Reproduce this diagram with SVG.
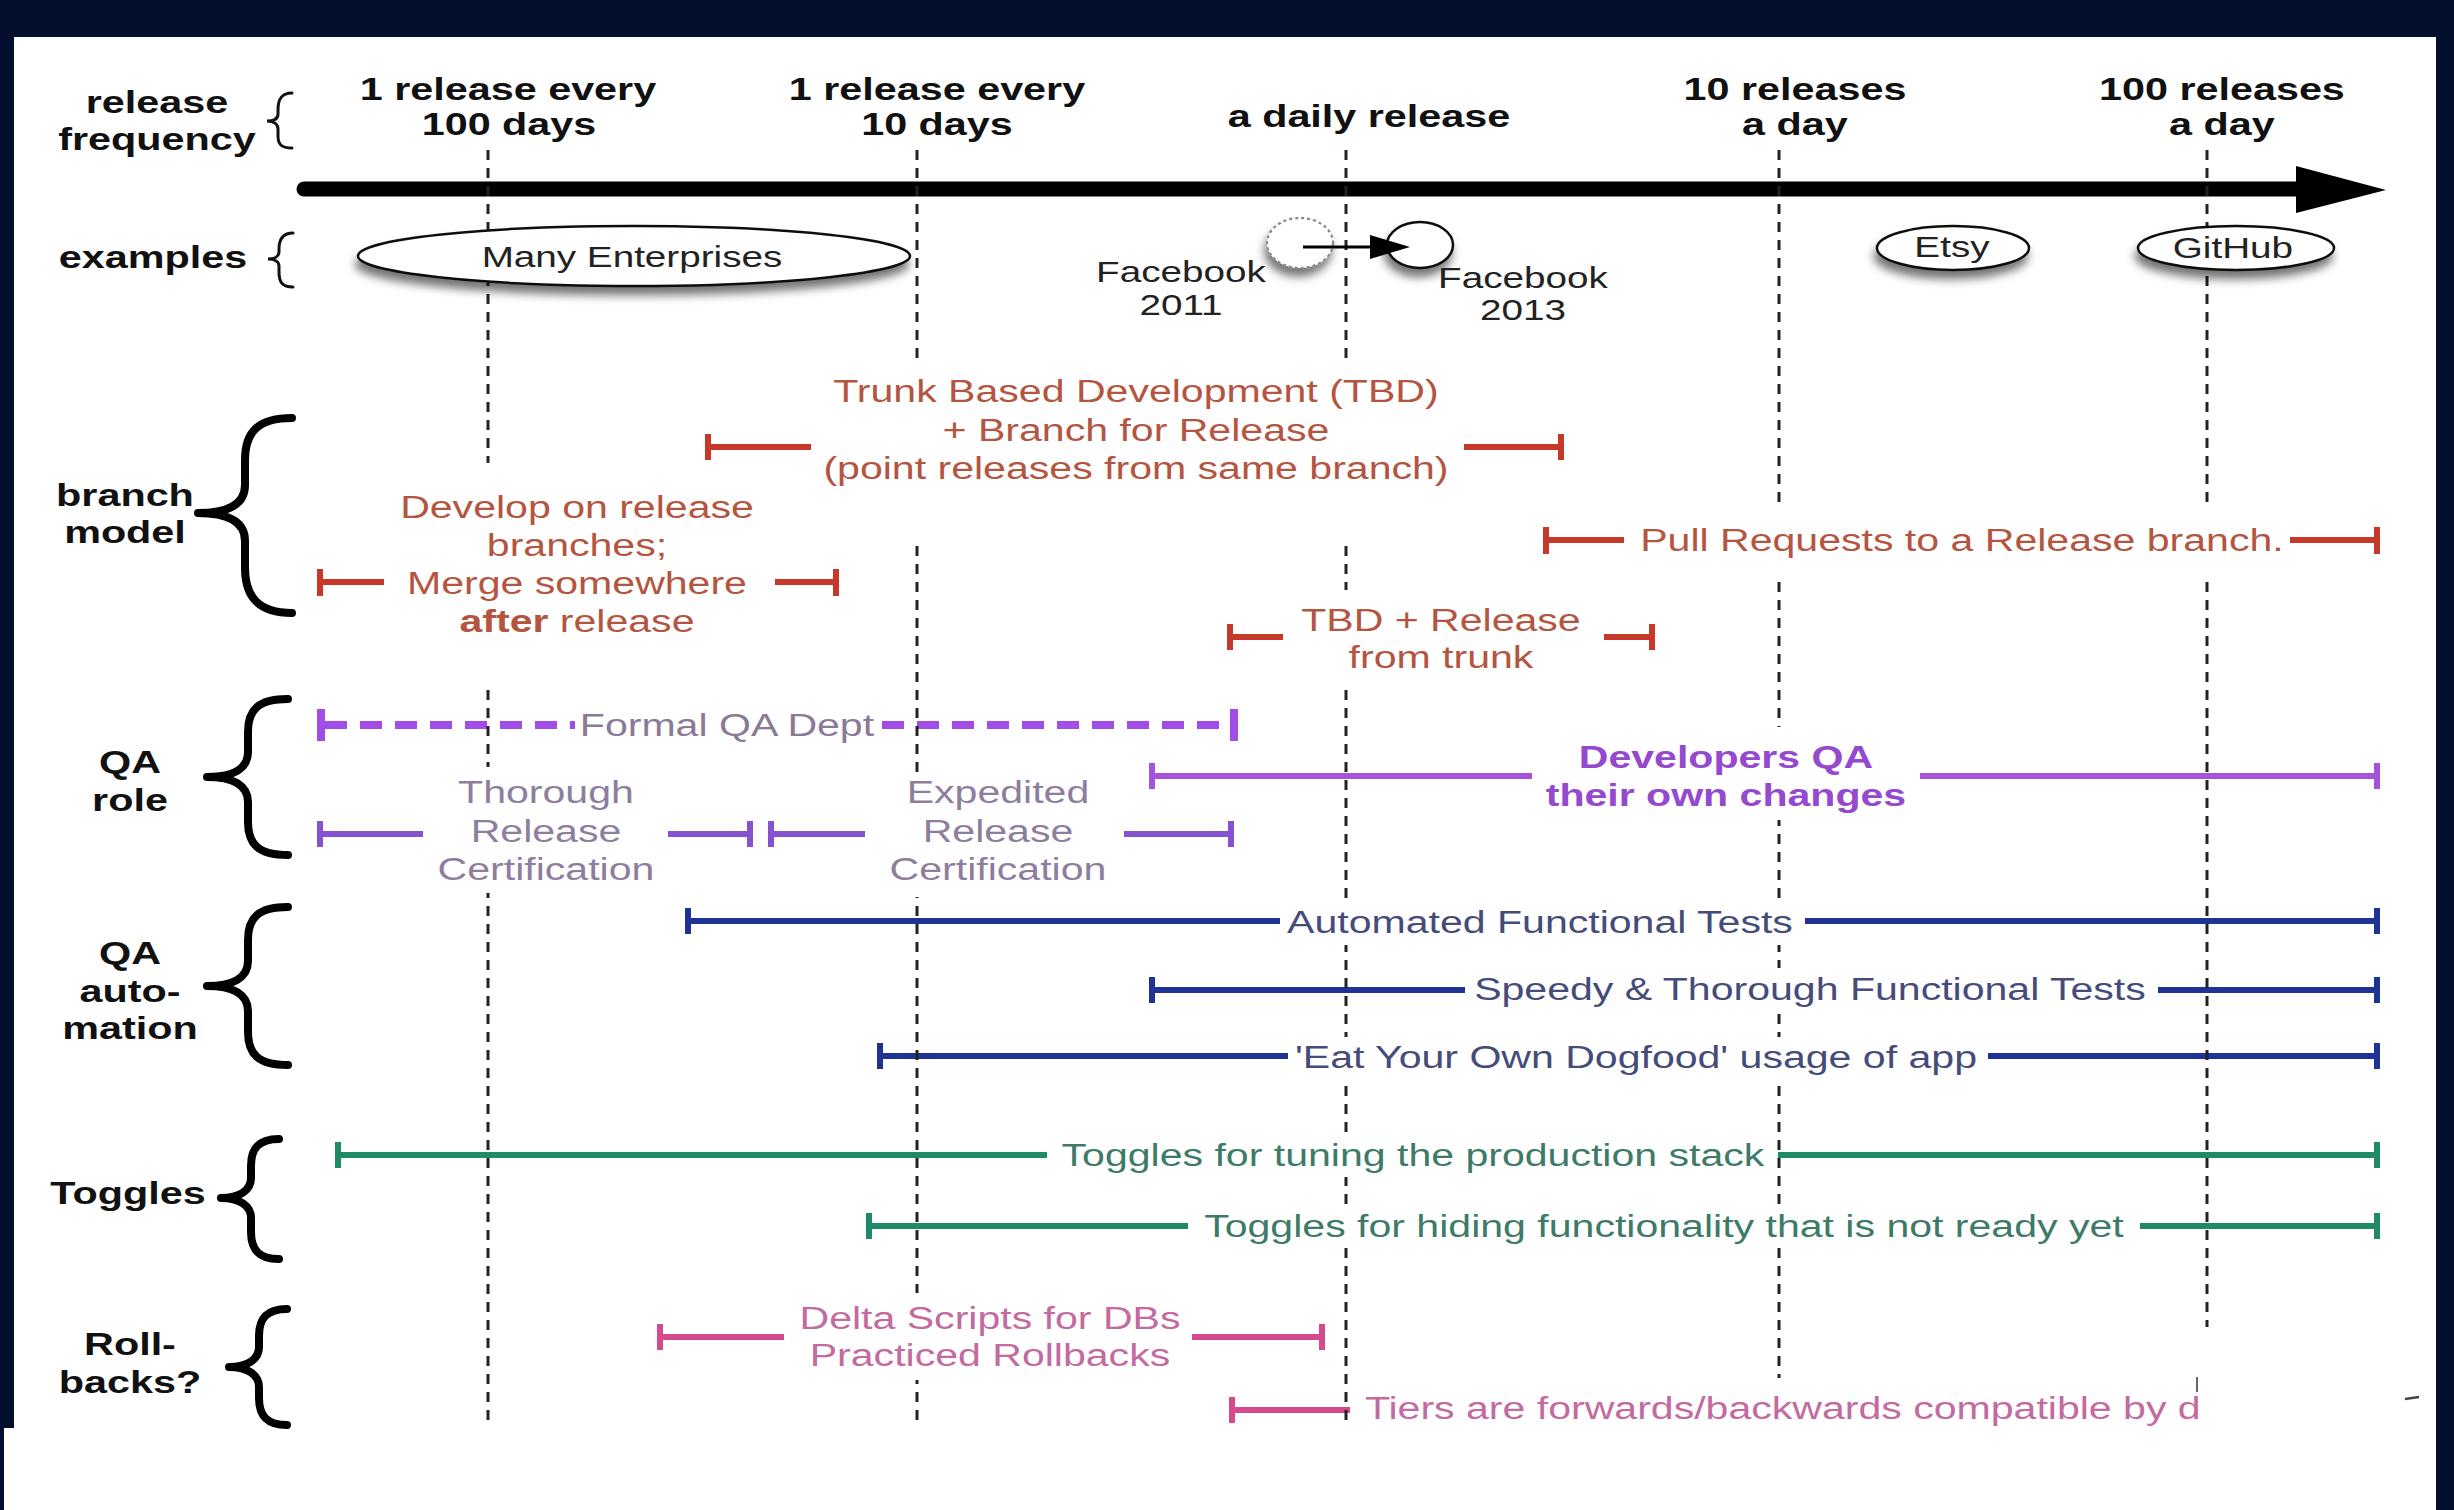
<svg xmlns="http://www.w3.org/2000/svg" width="2454" height="1510" viewBox="0 0 2454 1510">
<style>
.lbl{font-family:"Liberation Sans",Arial,Helvetica,sans-serif;font-weight:bold;font-size:31px;fill:#111;text-anchor:middle}
.t{font-family:"Liberation Sans",Arial,Helvetica,sans-serif;font-size:30.8px;text-anchor:middle}
.e{font-family:"Liberation Sans",Arial,Helvetica,sans-serif;font-size:29px;fill:#222;text-anchor:middle}
.b{font-weight:bold}
.vl{stroke:#222;stroke-width:3;stroke-dasharray:10 8;fill:none}
.br{stroke:#000;stroke-width:8;fill:none;stroke-linecap:round;stroke-linejoin:round}
.thin{stroke:#111;stroke-width:3;fill:none;stroke-linecap:round}
.bar{stroke-width:6;fill:none}
.cap{stroke-width:6}
.red{stroke:#c8382a}.redt{fill:#b4553f}
.pd{stroke:#a24ee6}.pdt{fill:#8a7a98}
.pv{stroke:#a552dc}.pvt{fill:#9449cf}
.pt{stroke:#8752d0}.ptt{fill:#8e7e9e}
.blu{stroke:#1f3394}.blut{fill:#464c7a}
.grn{stroke:#1e8a68}.grnt{fill:#3e7a68}
.pk{stroke:#d44a8c}.pkt{fill:#c36aa0}
.ko{fill:#fff}
.ell{fill:#fff;stroke:#111;stroke-width:2.5}
</style>
<defs>
<filter id="sh" x="-20%" y="-40%" width="140%" height="200%">
<feDropShadow dx="-2" dy="8" stdDeviation="5" flood-color="#000" flood-opacity="0.55"/>
</filter>
<clipPath id="tierclip"><rect x="1200" y="1380" width="1003" height="48"/></clipPath>
</defs>
<rect x="0" y="0" width="2454" height="1510" fill="#020f2e"/>
<rect x="14" y="37" width="2422" height="1391" fill="#fff"/>
<rect x="4" y="1428" width="2432" height="82" fill="#fff"/>

<!-- timeline axis -->
<g id="axis">
<line x1="304" y1="189" x2="2300" y2="189" stroke="#000" stroke-width="15" stroke-linecap="round"/>
<polygon points="2296,166 2386,190 2296,213" fill="#000"/>
</g>

<!-- connectors: bars -->
<g id="connectors">
<g id="bar-trunk" class="red"><line class="bar" x1="708" y1="447" x2="811" y2="447"/><line class="bar" x1="1464" y1="447" x2="1561" y2="447"/><line class="cap" x1="708" y1="434" x2="708" y2="460"/><line class="cap" x1="1561" y1="434" x2="1561" y2="460"/></g>
<g id="bar-develop" class="red"><line class="bar" x1="320" y1="582" x2="384" y2="582"/><line class="bar" x1="775" y1="582" x2="836" y2="582"/><line class="cap" x1="320" y1="569" x2="320" y2="596"/><line class="cap" x1="836" y1="569" x2="836" y2="596"/></g>
<g id="bar-pull" class="red"><line class="bar" x1="1546" y1="540" x2="1624" y2="540"/><line class="bar" x1="2290" y1="540" x2="2377" y2="540"/><line class="cap" x1="1546" y1="527" x2="1546" y2="554"/><line class="cap" x1="2377" y1="527" x2="2377" y2="554"/></g>
<g id="bar-tbd" class="red"><line class="bar" x1="1230" y1="637" x2="1283" y2="637"/><line class="bar" x1="1604" y1="637" x2="1652" y2="637"/><line class="cap" x1="1230" y1="624" x2="1230" y2="650"/><line class="cap" x1="1652" y1="624" x2="1652" y2="650"/></g>

<g id="bar-formal" class="pd"><line x1="325" y1="725" x2="575" y2="725" stroke-width="8" stroke-dasharray="22 13"/><line x1="882" y1="725" x2="1232" y2="725" stroke-width="8" stroke-dasharray="22 13"/><line x1="321" y1="709" x2="321" y2="741" stroke-width="8"/><line x1="1234" y1="709" x2="1234" y2="741" stroke-width="8"/></g>
<g id="bar-dev" class="pv"><line class="bar" x1="1152" y1="776" x2="1532" y2="776"/><line class="bar" x1="1920" y1="776" x2="2377" y2="776"/><line class="cap" x1="1152" y1="763" x2="1152" y2="789"/><line class="cap" x1="2377" y1="763" x2="2377" y2="789"/></g>
<g id="bar-thorough" class="pt"><line class="bar" x1="320" y1="834" x2="423" y2="834"/><line class="bar" x1="668" y1="834" x2="750" y2="834"/><line class="cap" x1="320" y1="821" x2="320" y2="847"/><line class="cap" x1="750" y1="821" x2="750" y2="847"/></g>
<g id="bar-expedited" class="pt"><line class="bar" x1="771" y1="834" x2="865" y2="834"/><line class="bar" x1="1124" y1="834" x2="1231" y2="834"/><line class="cap" x1="771" y1="821" x2="771" y2="847"/><line class="cap" x1="1231" y1="821" x2="1231" y2="847"/></g>

<g id="bar-auto" class="blu"><line class="bar" x1="688" y1="921" x2="1280" y2="921"/><line class="bar" x1="1805" y1="921" x2="2377" y2="921"/><line class="cap" x1="688" y1="908" x2="688" y2="934"/><line class="cap" x1="2377" y1="908" x2="2377" y2="934"/></g>
<g id="bar-speedy" class="blu"><line class="bar" x1="1152" y1="990" x2="1465" y2="990"/><line class="bar" x1="2158" y1="990" x2="2377" y2="990"/><line class="cap" x1="1152" y1="977" x2="1152" y2="1003"/><line class="cap" x1="2377" y1="977" x2="2377" y2="1003"/></g>
<g id="bar-eat" class="blu"><line class="bar" x1="880" y1="1056" x2="1288" y2="1056"/><line class="bar" x1="1988" y1="1056" x2="2377" y2="1056"/><line class="cap" x1="880" y1="1043" x2="880" y2="1069"/><line class="cap" x1="2377" y1="1043" x2="2377" y2="1069"/></g>

<g id="bar-tuning" class="grn"><line class="bar" x1="338" y1="1155" x2="1047" y2="1155"/><line class="bar" x1="1778" y1="1155" x2="2377" y2="1155"/><line class="cap" x1="338" y1="1142" x2="338" y2="1168"/><line class="cap" x1="2377" y1="1142" x2="2377" y2="1168"/></g>
<g id="bar-hiding" class="grn"><line class="bar" x1="869" y1="1226" x2="1188" y2="1226"/><line class="bar" x1="2140" y1="1226" x2="2377" y2="1226"/><line class="cap" x1="869" y1="1213" x2="869" y2="1239"/><line class="cap" x1="2377" y1="1213" x2="2377" y2="1239"/></g>

<g id="bar-delta" class="pk"><line class="bar" x1="660" y1="1337" x2="784" y2="1337"/><line class="bar" x1="1192" y1="1337" x2="1322" y2="1337"/><line class="cap" x1="660" y1="1324" x2="660" y2="1350"/><line class="cap" x1="1322" y1="1324" x2="1322" y2="1350"/></g>
<g id="bar-tiers" class="pk"><line class="bar" x1="1232" y1="1410" x2="1350" y2="1410"/><line class="cap" x1="1232" y1="1397" x2="1232" y2="1423"/></g>
</g>

<!-- vertical dashed frequency lines -->
<g id="gridlines">
<line class="vl" x1="488" y1="150" x2="488" y2="1428"/>
<line class="vl" x1="917" y1="150" x2="917" y2="1428"/>
<line class="vl" x1="1346" y1="150" x2="1346" y2="1428"/>
<line class="vl" x1="1779" y1="150" x2="1779" y2="1378"/>
<line class="vl" x1="2207" y1="150" x2="2207" y2="1327"/>
<line x1="2197" y1="1377" x2="2197" y2="1392" stroke="#666" stroke-width="2"/>
<line x1="2405" y1="1399" x2="2419" y2="1397" stroke="#444" stroke-width="2.5"/>
</g>

<!-- knockouts behind text -->
<g id="knockouts">
<rect class="ko" x="820" y="360" width="632" height="178"/>
<rect class="ko" x="395" y="463" width="365" height="220"/>
<rect class="ko" x="1635" y="510" width="650" height="67"/>
<rect class="ko" x="1296" y="590" width="294" height="95"/>
<rect class="ko" x="1540" y="727" width="372" height="93"/>
<rect class="ko" x="428" y="767" width="234" height="126"/>
<rect class="ko" x="888" y="775" width="228" height="122"/>
<rect class="ko" x="1283" y="900" width="514" height="45"/>
<rect class="ko" x="1468" y="968" width="685" height="42"/>
<rect class="ko" x="1292" y="1037" width="691" height="43"/>
<rect class="ko" x="1052" y="1135" width="720" height="42"/>
<rect class="ko" x="1190" y="1205" width="946" height="43"/>
<rect class="ko" x="788" y="1293" width="400" height="87"/>
</g>

<!-- braces -->
<g id="braces">
<path class="thin" d="M292,93 C281,93 278,100 278,110 L278,114 C278,119 274,121 267,121 C274,121 278,124 278,129 L278,136 C278,144 281,148 292,148"/>
<path class="thin" d="M293,233 C282,233 279,240 279,249 L279,252 C279,256 275,259 268,259 C275,259 279,262 279,266 L279,272 C279,282 282,287 293,287"/>
<path class="br" d="M292,418 C258,418 245,432 245,460 L245,485 C245,503 230,513 198,513 C230,513 245,523 245,541 L245,568 C245,596 258,613 292,613"/>
<path class="br" d="M288,699 C258,699 248,710 248,732 L248,752 C248,768 234,777 207,777 C234,777 248,786 248,802 L248,822 C248,844 258,855 288,855"/>
<path class="br" d="M288,907 C258,907 248,918 248,940 L248,961 C248,977 234,986 207,986 C234,986 248,995 248,1011 L248,1032 C248,1054 258,1065 288,1065"/>
<path class="br" d="M279,1139 C259,1139 251,1148 251,1166 L251,1178 C251,1190 240,1198 221,1198 C240,1198 251,1206 251,1218 L251,1232 C251,1250 259,1259 279,1259"/>
<path class="br" d="M287,1309 C267,1309 259,1318 259,1336 L259,1347 C259,1359 248,1367 229,1367 C248,1367 259,1375 259,1387 L259,1398 C259,1416 267,1425 287,1425"/>
</g>

<!-- example nodes -->
<g id="node-many-enterprises"><ellipse class="ell" cx="634" cy="256" rx="276" ry="30" filter="url(#sh)"/></g>
<g id="node-fb2011"><ellipse cx="1300" cy="243" rx="33" ry="25" fill="#fff" stroke="#888" stroke-width="2.2" stroke-dasharray="3 3" filter="url(#sh)"/></g>
<g id="node-fb2013"><ellipse class="ell" cx="1420" cy="245" rx="33" ry="23" filter="url(#sh)"/></g>
<g id="node-etsy"><ellipse class="ell" cx="1953" cy="248" rx="76" ry="22" filter="url(#sh)"/></g>
<g id="node-github"><ellipse class="ell" cx="2236" cy="248" rx="98" ry="22" filter="url(#sh)"/></g>
<g id="fb-arrow">
<line x1="1303" y1="247" x2="1378" y2="247" stroke="#000" stroke-width="3"/>
<polygon points="1370,235 1410,247 1370,259" fill="#000"/>
</g>

<!-- all text, stretched horizontally like the reference -->
<g transform="scale(1.3333,1)">
<g id="row-labels">
<text class="lbl" x="117.75" y="113">release</text>
<text class="lbl" x="117.75" y="150">frequency</text>
<text class="lbl" x="114.75" y="268">examples</text>
<text class="lbl" x="93.75" y="506">branch</text>
<text class="lbl" x="93.75" y="543">model</text>
<text class="lbl" x="97.5" y="773">QA</text>
<text class="lbl" x="97.5" y="811">role</text>
<text class="lbl" x="97.5" y="964">QA</text>
<text class="lbl" x="97.5" y="1002">auto-</text>
<text class="lbl" x="97.5" y="1039">mation</text>
<text class="lbl" x="96" y="1204">Toggles</text>
<text class="lbl" x="97.5" y="1355">Roll-</text>
<text class="lbl" x="97.5" y="1393">backs?</text>
</g>
<g id="freq-labels">
<text class="lbl" x="381" y="100">1 release every</text>
<text class="lbl" x="381.75" y="135">100 days</text>
<text class="lbl" x="702.75" y="100">1 release every</text>
<text class="lbl" x="702.75" y="135">10 days</text>
<text class="lbl" x="1026.75" y="127">a daily release</text>
<text class="lbl" x="1346.25" y="100">10 releases</text>
<text class="lbl" x="1346.25" y="135">a day</text>
<text class="lbl" x="1666.5" y="100">100 releases</text>
<text class="lbl" x="1666.5" y="135">a day</text>
</g>
<g id="example-labels">
<text class="e" x="474" y="267">Many Enterprises</text>
<text class="e" x="885.75" y="282">Facebook</text>
<text class="e" x="885.75" y="315">2011</text>
<text class="e" x="1142.25" y="288">Facebook</text>
<text class="e" x="1142.25" y="320">2013</text>
<text class="e" x="1464" y="257">Etsy</text>
<text class="e" x="1674.75" y="258">GitHub</text>
</g>
<g id="branch-texts">
<text class="t redt" x="852" y="402">Trunk Based Development (TBD)</text>
<text class="t redt" x="852" y="441">+ Branch for Release</text>
<text class="t redt" x="852" y="479">(point releases from same branch)</text>
<text class="t redt" x="432.75" y="518">Develop on release</text>
<text class="t redt" x="432.75" y="556">branches;</text>
<text class="t redt" x="432.75" y="594">Merge somewhere</text>
<text class="t redt" x="432.75" y="632"><tspan class="b">after</tspan> release</text>
<text class="t redt" x="1471.5" y="551">Pull Requests to a Release branch.</text>
<text class="t redt" x="1080.75" y="631">TBD + Release</text>
<text class="t redt" x="1080.75" y="668">from trunk</text>
</g>
<g id="qa-texts">
<text class="t pdt" x="545.25" y="736">Formal QA Dept</text>
<text class="t pvt b" x="1294.5" y="768">Developers QA</text>
<text class="t pvt b" x="1294.5" y="806">their own changes</text>
<text class="t ptt" x="409.5" y="803">Thorough</text>
<text class="t ptt" x="409.5" y="842">Release</text>
<text class="t ptt" x="409.5" y="880">Certification</text>
<text class="t ptt" x="748.5" y="803">Expedited</text>
<text class="t ptt" x="748.5" y="842">Release</text>
<text class="t ptt" x="748.5" y="880">Certification</text>
</g>
<g id="auto-texts">
<text class="t blut" x="1155" y="933">Automated Functional Tests</text>
<text class="t blut" x="1357.5" y="1000">Speedy &amp; Thorough Functional Tests</text>
<text class="t blut" x="1227" y="1068">'Eat Your Own Dogfood' usage of app</text>
</g>
<g id="toggle-texts">
<text class="t grnt" x="1059.75" y="1166">Toggles for tuning the production stack</text>
<text class="t grnt" x="1248" y="1237">Toggles for hiding functionality that is not ready yet</text>
</g>
<g id="rollback-texts">
<text class="t pkt" x="742.5" y="1329">Delta Scripts for DBs</text>
<text class="t pkt" x="742.5" y="1366">Practiced Rollbacks</text>
</g>
</g>
<g clip-path="url(#tierclip)">
<g transform="scale(1.3333,1)">
<text class="t pkt" x="1023.75" y="1419" style="text-anchor:start">Tiers are forwards/backwards compatible by d</text>
</g>
</g>
</svg>
